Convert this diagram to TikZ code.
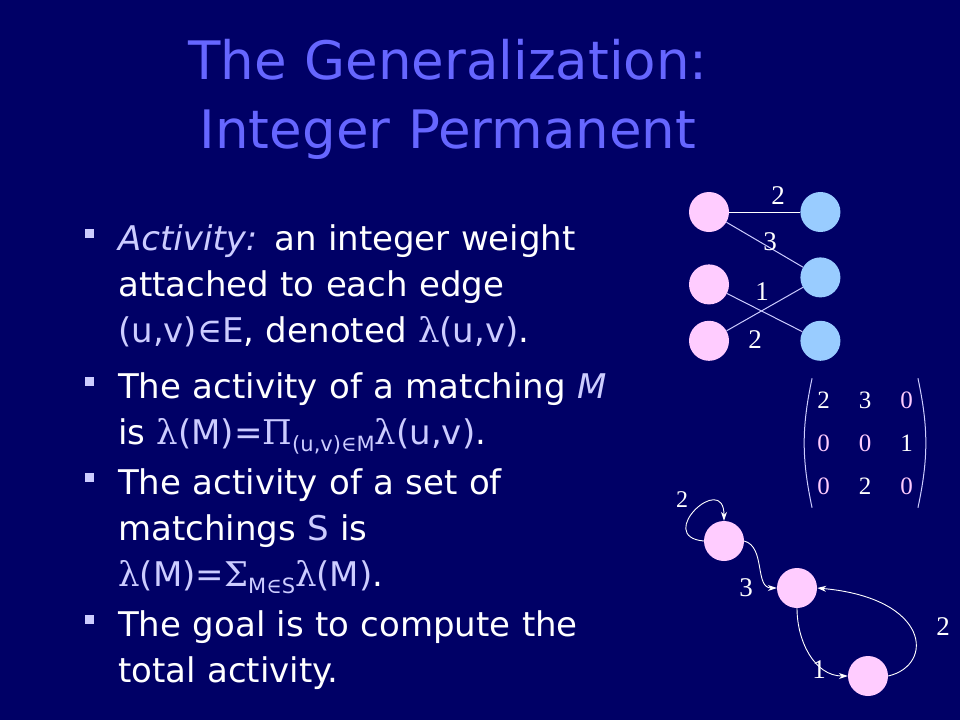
\documentclass[tikz,border=0pt]{standalone}
\usepackage{fontspec}
\setmainfont{DejaVu Sans}
\newfontfamily\symb{DejaVu Serif}
\newfontfamily\numfont{Liberation Serif}
\usetikzlibrary{positioning, arrows.meta}

\definecolor{slidebg}{RGB}{0,0,102}
\definecolor{titleblue}{RGB}{102,102,255}
\definecolor{lav}{RGB}{204,204,255}
\definecolor{pinkfill}{RGB}{255,204,255}
\definecolor{bluefill}{RGB}{153,204,255}

\newcommand{\lavtext}[1]{\textcolor{lav}{#1}}
\newcommand{\lowsub}[1]{\raisebox{-7pt}{\fontsize{21}{21}\selectfont #1}}
\newcommand{\zero}{\textcolor{pinkfill}{0}}

\begin{document}
\begin{tikzpicture}[
        x=1pt, y=-1pt,
        heading/.style={text=titleblue, font=\fontsize{53}{69}\selectfont, text width=700pt, align=center, anchor=base, inner sep=0pt},
        body/.style={text=white, font=\fontsize{34}{46}\selectfont, text width=560pt, align=left, anchor=base west, inner sep=0pt},
        sqmark/.style={rectangle, fill=lav, minimum size=9pt, inner sep=0pt},
        pinkv/.style={circle, fill=pinkfill, minimum size=40pt, inner sep=0pt},
        bluev/.style={circle, fill=bluefill, minimum size=40pt, inner sep=0pt},
        wt/.style={text=white, font=\numfont\fontsize{27}{27}\selectfont, inner sep=0pt},
        link/.style={draw=lav, line width=1pt},
        arrow/.style={-{Stealth[length=9pt, width=6pt]}, draw=white, line width=0.9pt}
      ]
        % Background
        \fill[slidebg] (0,0) rectangle (960,720);

        % Title
        \node[heading] (title) at (448,79) {The Generalization:\\Integer Permanent};

        % Bullets
        \node[sqmark] (b1) at (89,233) {};
        \node[body] (t1) at (118,250) {\lavtext{\itshape Activity:} an integer weight\\attached to each edge\\\lavtext{(u,v){\symb ∈}E}, denoted \lavtext{{\symb λ}(u,v)}.};
        \node[sqmark] (b2) at (89,381) {};
        \node[body] (t2) at (118,398) {The activity of a matching \lavtext{\itshape M}\\is \lavtext{{\symb λ}(M)={\symb Π}\lowsub{(u,v){\symb ∈}M}{\symb λ}(u,v)}.};
        \node[sqmark] (b3) at (89,477) {};
        \node[body] (t3) at (118,494) {The activity of a set of\\matchings \lavtext{S} is\\\lavtext{{\symb λ}(M)={\symb Σ}\lowsub{M{\symb ∈}S}{\symb λ}(M)}.};
        \node[sqmark] (b4) at (89,619) {};
        \node[body] (t4) at (118,636) {The goal is to compute the\\total activity.};

        % Bipartite graph
        \node[pinkv] (u1) at (709,212) {};
        \node[pinkv, below=32pt of u1] (u2) {};
        \node[pinkv, below=16pt of u2] (u3) {};
        \node[bluev, right=71pt of u1] (v1) {};
        \node[bluev, below=25pt of v1] (v2) {};
        \node[bluev, below=23pt of v2] (v3) {};

        \draw[link, draw=white] (u1) -- (v1);
        \draw[link] (u1) -- (v2);
        \draw[link] (u2) -- (v3);
        \draw[link] (u3) -- (v2);

        \node[wt] (w12) at (778,196) {2};
        \node[wt] (w13) at (770,242) {3};
        \node[wt] (w21) at (762,292) {1};
        \node[wt] (w32) at (755,340) {2};

        % Matrix
        \node[text=white, inner xsep=5pt, inner ysep=0pt, font=\numfont\fontsize{25}{43}\selectfont] (mat) at (865,443)
          {\begin{tabular}{@{}c@{\hspace{29pt}}c@{\hspace{29pt}}c@{}}
            2 & 3 & \zero\\
            \zero & \zero & 1\\
            \zero & 2 & \zero
          \end{tabular}};
        \draw[lav, line width=1pt] (mat.north west) to[bend right=12] (mat.south west);
        \draw[lav, line width=1pt] (mat.north east) to[bend left=12] (mat.south east);

        % Directed graph
        \node[pinkv] (p1) at (724,541) {};
        \node[pinkv] (p2) at (797,588) {};
        \node[pinkv] (p3) at (868,676) {};

        \draw[arrow] (p1.west) to[out=175, in=90, looseness=4.5] (p1.north);
        \draw[arrow] (p1.east) to[out=-15, in=180] (p2.west);
        \draw[arrow] (p2.south) to[out=-90, in=180] (p3.west);
        \draw[arrow] (p3.east) .. controls (935,665) and (930,598) .. (p2.east);

        \node[wt, font=\numfont\fontsize{24}{24}\selectfont] (l11) at (682,500) {2};
        \node[wt] (l12) at (746,588) {3};
        \node[wt] (l23) at (819,670) {1};
        \node[wt] (l32) at (943,627) {2};

      \end{tikzpicture}
\end{document}
